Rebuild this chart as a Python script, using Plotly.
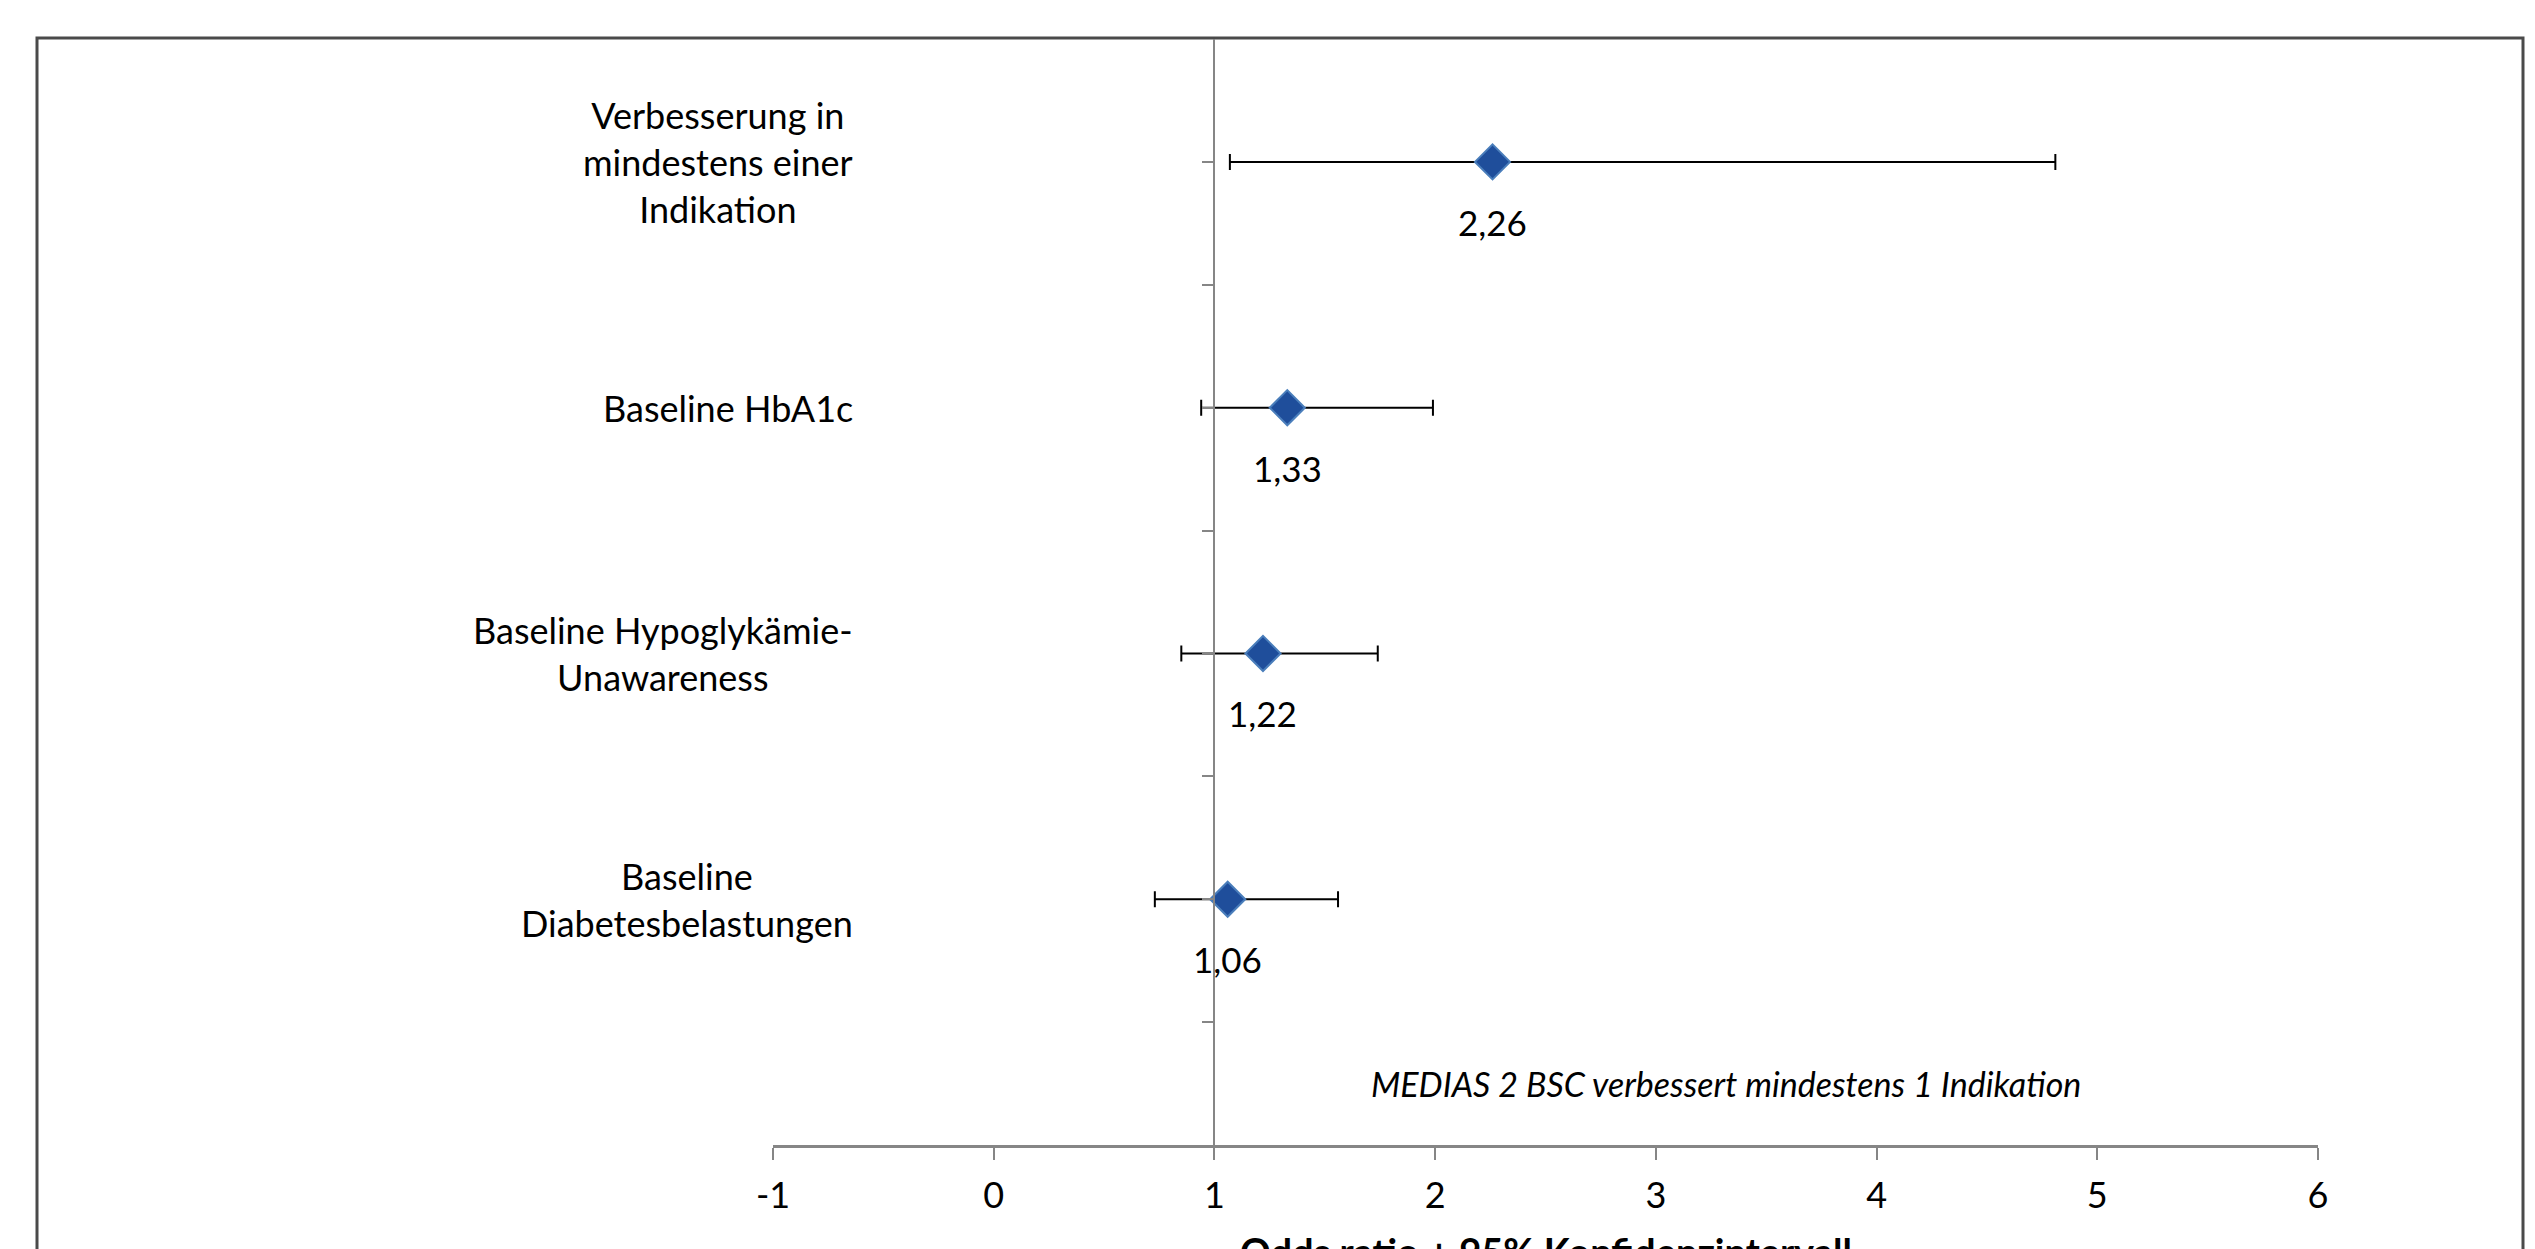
import plotly.graph_objects as go

categories = [
    "Verbesserung in<br>mindestens einer<br>Indikation",
    "Baseline HbA1c",
    "Baseline Hypoglykämie-<br>Unawareness",
    "Baseline<br>Diabetesbelastungen",
]
y_pos = [4, 3, 2, 1]
odds_ratio = [2.26, 1.33, 1.22, 1.06]
ci_low = [1.07, 0.94, 0.85, 0.73]
ci_high = [4.81, 1.99, 1.74, 1.56]
x_ticks = [-1, 0, 1, 2, 3, 4, 5, 6]
x_ticktext = ["-1", "0", "1", "2", "3", "4", "5", "6"]
note_text = "MEDIAS 2 BSC verbessert mindestens 1 Indikation"
x_title = "Odds ratio + 95% Konfidenzintervall"

# page body has an 8px margin, so the figure is 8px smaller than the window
W, H = 2527, 1241
L, R, T, B = 765, 217, 31, 104.4
PW, PH = W - L - R, H - T - B
FONT = "Lato"


def px_x(p):
    return (p - L) / PW


def px_y(p):
    return (H - B - p) / PH


fig = go.Figure()
fig.add_trace(go.Scatter(
    x=odds_ratio, y=y_pos, mode="markers",
    marker=dict(symbol="diamond", size=27, color="#1F4E9B",
                line=dict(color="#4A7EBB", width=2)),
    error_x=dict(type="data", symmetric=False,
                 array=[h - o for h, o in zip(ci_high, odds_ratio)],
                 arrayminus=[o - l for o, l in zip(odds_ratio, ci_low)],
                 color="black", thickness=2, width=8),
    showlegend=False, hoverinfo="skip",
))

annotations = []
for cat, y in zip(categories, y_pos):
    annotations.append(dict(
        x=px_x(847), xref="paper", y=y, yref="y", text=cat, showarrow=False,
        xanchor="right", yanchor="middle", align="center",
        font=dict(family=FONT, size=36, color="black")))
for o, y in zip(odds_ratio, y_pos):
    annotations.append(dict(
        x=o, y=y, xref="x", yref="y", text=f"{o:.2f}".replace(".", ","),
        showarrow=False, xanchor="center", yanchor="middle", yshift=-60,
        font=dict(family=FONT, size=35, color="black")))
annotations.append(dict(
    x=3.32, y=0.25, xref="x", yref="y", text=f"<i>{note_text}</i>",
    showarrow=False, xanchor="center", yanchor="middle",
    font=dict(family=FONT, size=34, color="black")))
annotations.append(dict(
    x=0.5, xref="paper", y=px_y(1218), yref="paper", text=f"<b>{x_title}</b>",
    showarrow=False, xanchor="center", yanchor="top",
    font=dict(family=FONT, size=38, color="black")))

fig.update_layout(
    width=W, height=H,
    margin=dict(l=L, r=R, t=T, b=B, autoexpand=False),
    paper_bgcolor="white", plot_bgcolor="white",
    annotations=annotations,
    xaxis=dict(range=[-1, 6], tickvals=x_ticks, ticktext=x_ticktext,
               showgrid=False, zeroline=False,
               showline=True, linecolor="#868686", linewidth=3,
               ticks="outside", ticklen=12, tickcolor="#868686", tickwidth=1.5,
               tickfont=dict(family=FONT, size=36, color="black"),
               ticklabelstandoff=5, automargin=False),
    yaxis=dict(range=[0, 4.5], tickvals=[0.5, 1, 1.5, 2, 2.5, 3, 3.5, 4],
               showticklabels=False, showgrid=False, zeroline=False,
               showline=True, linecolor="#868686", linewidth=1.5,
               ticks="outside", ticklen=12, tickcolor="#868686", tickwidth=1.5,
               anchor="free", position=2 / 7, automargin=False),
    shapes=[dict(type="rect", xref="paper", yref="paper",
                 x0=px_x(29), x1=px_x(2515),
                 y0=px_y(1400), y1=px_y(30),
                 line=dict(color="#4a4a4a", width=3), layer="below")],
)

fig.write_html("out.html")
